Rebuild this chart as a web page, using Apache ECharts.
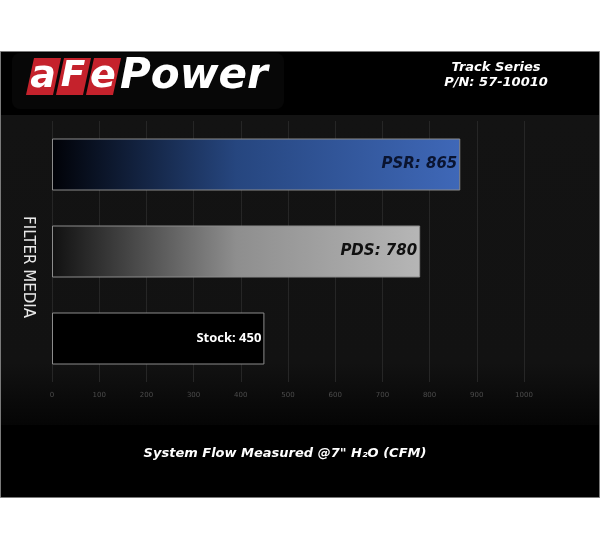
<!DOCTYPE html>
<html>
<head>
<meta charset="utf-8">
<script src="https://cdn.jsdelivr.net/npm/echarts@6/dist/echarts.min.js"></script>
<style>html,body{margin:0;padding:0;background:#fff}#c{width:600px;height:540px}</style>
</head>
<body>
<div id="c"></div>
<script>
var categories = ['PSR', 'PDS', 'Stock'];
var flowValues = [865, 780, 450];
var barLabels = ['PSR: 865', 'PDS: 780', 'Stock: 450'];
var tickLabels = ['0','100','200','300','400','500','600','700','800','900','1000'];
var titleLines = ['Track Series', 'P/N: 57-10010'];
var axisTitle = 'System Flow Measured @7" H\u2082O (CFM)';
var yTitle = 'FILTER MEDIA';

var chart = echarts.init(document.getElementById('c'));
var G = echarts.graphic;

var barStyles = [
  { color: new G.LinearGradient(0,0,1,0,[{offset:0,color:'#010207'},{offset:0.45,color:'#26467f'},{offset:1,color:'#3f68b8'}]),
    label: { color:'#0a1430', fontFamily:'DejaVu Sans', fontStyle:'italic', fontWeight:'bold', fontSize:15 } },
  { color: new G.LinearGradient(0,0,1,0,[{offset:0,color:'#111111'},{offset:0.5,color:'#8e8e8e'},{offset:1,color:'#b6b6b6'}]),
    label: { color:'#111111', fontFamily:'DejaVu Sans', fontStyle:'italic', fontWeight:'bold', fontSize:15 } },
  { color: '#000000',
    label: { color:'#ffffff', fontFamily:'Open Sans', fontWeight:'bold', fontSize:13 } }
];

var data = flowValues.map(function(v, i){
  return {
    value: v,
    itemStyle: { color: barStyles[i].color, borderColor:'#8c8c8c', borderWidth:1 },
    label: Object.assign({ show:true, position:'insideRight', distance:3, formatter: barLabels[i] }, barStyles[i].label)
  };
});

function logoBox(x){
  return { type:'polygon', z:-5, shape:{ points:[[x,95],[x+8,58],[x+35,58],[x+27,95]] }, style:{ fill:'#c5222c' } };
}

var option = {
  backgroundColor:'#ffffff',
  animation:false,
  grid:{ left:52, right:76, top:121, bottom:158 },
  xAxis:{
    type:'value', min:0, max:1000, interval:100,
    axisLine:{show:false}, axisTick:{show:false},
    splitLine:{ show:true, lineStyle:{ color:'#262626', width:1 } },
    axisLabel:{ color:'#4c4c4c', fontSize:7, margin:10, fontFamily:'DejaVu Sans',
      formatter:function(v){ return tickLabels[Math.round(v/100)]; } }
  },
  yAxis:{
    type:'category', data:categories, inverse:true,
    axisLine:{show:false}, axisTick:{show:false}, axisLabel:{show:false}, splitLine:{show:false}
  },
  series:[{ type:'bar', data:data, barWidth:52, z:3 }],
  graphic:[
    { type:'rect', z:-20, shape:{ x:0.5, y:51.5, width:599, height:446 }, style:{ fill:'#000000', stroke:'#7a7a7a', lineWidth:1 } },
    { type:'rect', z:-19, shape:{ x:1, y:115, width:598, height:310 },
      style:{ fill: new G.LinearGradient(0,0,0,1,[{offset:0,color:'#131313'},{offset:0.8,color:'#121212'},{offset:1,color:'#050505'}]) } },
    { type:'rect', z:-6, shape:{ x:12, y:53, width:272, height:56, r:8 }, style:{ fill:'#070707' } },
    logoBox(26), logoBox(56), logoBox(86),
    { type:'text', z:-4, x:43, y:77, style:{ text:'a', fill:'#ffffff', font:'italic bold 38px DejaVu Sans', align:'center', verticalAlign:'middle' } },
    { type:'text', z:-4, x:73, y:77, style:{ text:'F', fill:'#ffffff', font:'italic bold 36px DejaVu Sans', align:'center', verticalAlign:'middle' } },
    { type:'text', z:-4, x:103, y:77, style:{ text:'e', fill:'#ffffff', font:'italic bold 38px DejaVu Sans', align:'center', verticalAlign:'middle' } },
    { type:'text', z:-4, x:120, y:77, style:{ text:'Power', fill:'#ffffff', font:'italic bold 42px DejaVu Sans', align:'left', verticalAlign:'middle' } },
    { type:'text', z:-4, x:496, y:68, style:{ text:titleLines[0], fill:'#ffffff', font:'italic bold 13px DejaVu Sans', align:'center', verticalAlign:'middle' } },
    { type:'text', z:-4, x:496, y:83, style:{ text:titleLines[1], fill:'#ffffff', font:'italic bold 13px DejaVu Sans', align:'center', verticalAlign:'middle' } },
    { type:'text', z:-4, x:28, y:267, rotation:-Math.PI/2, style:{ text:yTitle, fill:'#e8e8e8', font:'15px DejaVu Sans', align:'center', verticalAlign:'middle' } },
    { type:'text', z:-4, x:285, y:454, style:{ text:axisTitle, fill:'#ffffff', font:'italic bold 13px DejaVu Sans', align:'center', verticalAlign:'middle' } }
  ]
};
chart.setOption(option);
</script>
</body>
</html>
